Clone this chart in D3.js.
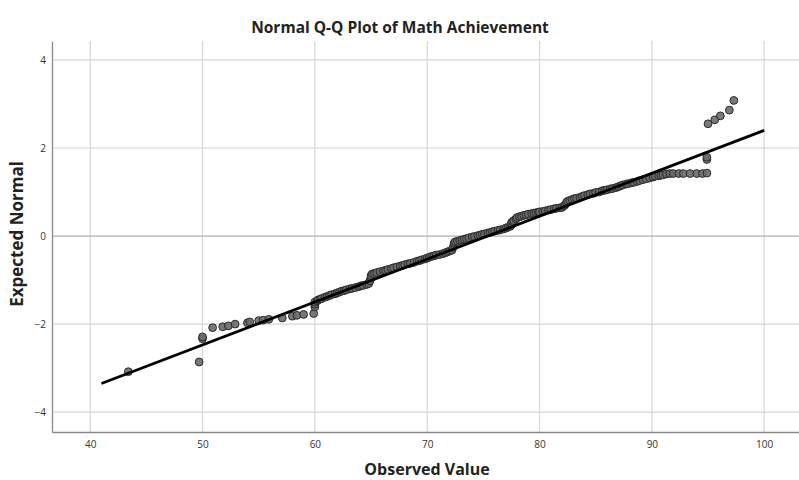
<!DOCTYPE html>
<html>
<head>
<meta charset="utf-8">
<script src="https://cdn.jsdelivr.net/npm/d3@7"></script>
<style>
  body { margin: 0; background: #fff; }
  svg text { font-family: "Open Sans", "DejaVu Sans", sans-serif; }
</style>
</head>
<body>
<div class="graf"></div>
<script>
const observed = [
  43.4, 49.7, 50.0, 50.0, 50.9, 51.8, 52.3, 52.9, 54.0, 54.2, 55.0, 55.4, 55.9, 57.1, 58.0, 58.4, 59.0, 59.9,
  60.0, 60.0, 60.0, 60.2, 60.3, 60.5, 60.6, 60.9, 61.1, 61.3, 61.5, 61.8, 62.0, 62.2, 62.4, 62.6, 62.8,
  63.1, 63.3, 63.6, 63.9, 64.1, 64.3, 64.6, 64.8, 64.9, 65.0, 65.0, 65.1, 65.3, 65.5, 65.8, 66.1, 66.3,
  66.5, 66.8, 67.0, 67.3, 67.6, 67.8, 68.0, 68.3, 68.5, 68.8, 69.1, 69.3, 69.5, 69.8, 70.0, 70.2, 70.4,
  70.6, 70.8, 71.1, 71.4, 71.6, 71.8, 72.0, 72.2, 72.3, 72.4, 72.4, 72.5, 72.7, 72.9, 73.1, 73.3, 73.5,
  73.7, 74.0, 74.2, 74.5, 74.7, 74.9, 75.1, 75.4, 75.6, 75.8, 76.0, 76.3, 76.5, 76.8, 77.0, 77.2, 77.4,
  77.5, 77.5, 77.6, 77.7, 77.9, 78.0, 78.2, 78.4, 78.6, 78.8, 79.0, 79.3, 79.5, 79.7, 79.9, 80.0, 80.3,
  80.5, 80.8, 81.0, 81.3, 81.5, 81.8, 82.0, 82.2, 82.3, 82.4, 82.5, 82.7, 82.9, 83.1, 83.3, 83.6, 83.8,
  84.0, 84.3, 84.5, 84.8, 85.0, 85.3, 85.6, 85.8, 86.0, 86.3, 86.5, 86.8, 87.0, 87.2, 87.4, 87.7, 87.9,
  88.2, 88.4, 88.7, 88.9, 89.2, 89.5, 89.8, 90.1, 90.3, 90.6, 90.8, 91.0, 91.3, 91.6, 91.9, 92.4, 92.8,
  93.4, 94.0, 94.5, 94.9, 94.9, 94.9,
  95.0, 95.6, 96.1, 96.9, 97.3
];
const expected = [
  -3.08, -2.86, -2.33, -2.29, -2.08, -2.06, -2.04, -2.00, -1.97, -1.95, -1.92, -1.91, -1.89, -1.86, -1.82, -1.80, -1.78, -1.76,
  -1.61, -1.55, -1.50, -1.47, -1.45, -1.43, -1.42, -1.39, -1.37, -1.35, -1.33, -1.31, -1.29, -1.27, -1.25, -1.24, -1.22,
  -1.20, -1.19, -1.17, -1.15, -1.13, -1.12, -1.10, -1.08, -1.02, -0.95, -0.90, -0.86, -0.85, -0.83, -0.81, -0.79, -0.78,
  -0.76, -0.74, -0.72, -0.70, -0.68, -0.67, -0.65, -0.63, -0.62, -0.60, -0.57, -0.56, -0.54, -0.52, -0.50, -0.48, -0.46,
  -0.45, -0.43, -0.42, -0.40, -0.38, -0.36, -0.34, -0.32, -0.26, -0.20, -0.16, -0.13, -0.12, -0.10, -0.09, -0.07, -0.06,
  -0.04, -0.02, -0.01, 0.01, 0.02, 0.04, 0.05, 0.07, 0.08, 0.10, 0.11, 0.13, 0.14, 0.16, 0.18, 0.20, 0.22,
  0.26, 0.30, 0.33, 0.35, 0.39, 0.42, 0.44, 0.45, 0.47, 0.48, 0.50, 0.51, 0.52, 0.53, 0.54, 0.55, 0.56,
  0.57, 0.59, 0.60, 0.62, 0.63, 0.64, 0.65, 0.69, 0.72, 0.76, 0.79, 0.81, 0.83, 0.85, 0.86, 0.88, 0.90,
  0.92, 0.94, 0.96, 0.97, 0.99, 1.00, 1.03, 1.04, 1.05, 1.07, 1.08, 1.10, 1.12, 1.14, 1.16, 1.18, 1.19,
  1.21, 1.22, 1.24, 1.26, 1.28, 1.30, 1.32, 1.34, 1.36, 1.37, 1.38, 1.39, 1.41, 1.42, 1.42, 1.42, 1.42,
  1.42, 1.42, 1.42, 1.43, 1.74, 1.79,
  2.55, 2.64, 2.73, 2.86, 3.08
];
// reference line end points
const lineX = [41, 100];
const lineY = [-3.35, 2.40];

const xTicks = [40, 50, 60, 70, 80, 90, 100];
const yTicks = [-4, -2, 0, 2, 4];

const chartTitle = 'Normal Q-Q Plot of Math Achievement';
const xTitle = 'Observed Value';
const yTitle = 'Expected Normal';

main()
function main(){
    let width = 799,
    height = 480;
    const margin = {top: 41, right: 0, bottom: 48, left: 52};

    let svg = d3.select('.graf')
        .append('svg')
        .attr('width', width)
        .attr('height', height);

    let x = d3.scaleLinear()
        .domain([36.6, 103.1])
        .range([margin.left, width - margin.right]);
    let y = d3.scaleLinear()
        .domain([-4.45, 4.43])
        .range([height - margin.bottom, margin.top]);

    //grid
    let grid = svg.append('g');
    grid.selectAll('.vg').data(xTicks).join('line')
        .attr('x1', d => x(d)).attr('x2', d => x(d))
        .attr('y1', margin.top).attr('y2', y.range()[0])
        .attr('stroke', '#d6d6d6').attr('stroke-width', 1.2);
    grid.selectAll('.hg').data(yTicks).join('line')
        .attr('x1', margin.left).attr('x2', width)
        .attr('y1', d => y(d)).attr('y2', d => y(d))
        .attr('stroke', d => d === 0 ? '#b0b0b0' : '#d6d6d6').attr('stroke-width', 1.2);

    //axes
    let xAxis = svg.append('g')
        .attr('transform', `translate(0,${y.range()[0]})`)
        .call(d3.axisBottom(x).tickValues(xTicks).tickSize(0).tickPadding(9));
    let yAxis = svg.append('g')
        .attr('transform', `translate(${margin.left},0)`)
        .call(d3.axisLeft(y).tickValues(yTicks).tickSize(0).tickPadding(6)
            .tickFormat(d => d < 0 ? '\u2212' + Math.abs(d) : d));
    [xAxis, yAxis].forEach(a => {
        a.select('.domain').attr('stroke', '#8a8a8a').attr('stroke-width', 1.3);
        a.selectAll('text').attr('fill', '#333').style('font-size', '10px');
    });

    //points
    const pts = observed.map((o, i) => ({o, e: expected[i]}));
    svg.append('g').selectAll('circle').data(pts).join('circle')
        .attr('cx', d => x(d.o))
        .attr('cy', d => y(d.e))
        .attr('r', 3.9)
        .attr('fill', '#6a6a6a')
        .attr('fill-opacity', 0.9)
        .attr('stroke', '#2a2a2a')
        .attr('stroke-width', 1);

    //reference line
    svg.append('line')
        .attr('x1', x(lineX[0])).attr('y1', y(lineY[0]))
        .attr('x2', x(lineX[1])).attr('y2', y(lineY[1]))
        .attr('stroke', '#000').attr('stroke-width', 2.7);

    //titles
    svg.append('text')
        .attr('x', 400).attr('y', 33)
        .attr('text-anchor', 'middle')
        .style('font-size', '15.5px').style('font-weight', 'bold')
        .attr('fill', '#222')
        .text(chartTitle);
    svg.append('text')
        .attr('x', 427).attr('y', 475)
        .attr('text-anchor', 'middle')
        .style('font-size', '16px').style('font-weight', 'bold')
        .attr('fill', '#222')
        .text(xTitle);
    svg.append('text')
        .attr('transform', `translate(23,234) rotate(-90)`)
        .attr('text-anchor', 'middle')
        .style('font-size', '17px').style('font-weight', 'bold')
        .attr('fill', '#222')
        .text(yTitle);
}
</script>
</body>
</html>
